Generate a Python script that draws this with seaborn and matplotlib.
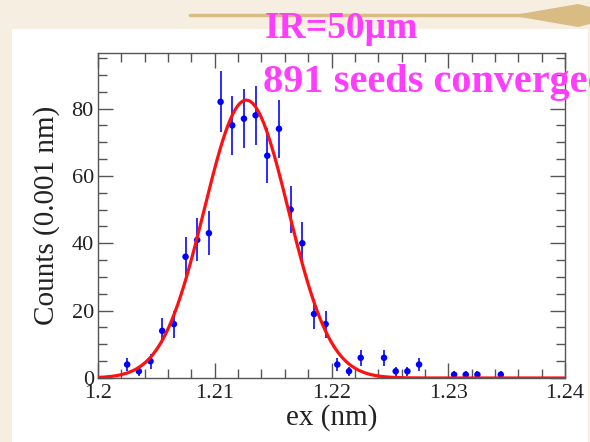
import numpy as np
import pandas as pd
import matplotlib
matplotlib.use("Agg")
import matplotlib.pyplot as plt
from matplotlib.patches import Rectangle, Polygon
from matplotlib.lines import Line2D
from matplotlib.ticker import MultipleLocator
import seaborn as sns

# ---- data ----
bin_centers = [1.2025, 1.2035, 1.2045, 1.2055, 1.2065, 1.2075, 1.2085, 1.2095,
               1.2105, 1.2115, 1.2125, 1.2135, 1.2145, 1.2155, 1.2165, 1.2175,
               1.2185, 1.2195, 1.2205, 1.2215, 1.2225, 1.2245, 1.2255, 1.2265,
               1.2275, 1.2305, 1.2315, 1.2325, 1.2345]
counts = [4, 2, 5, 14, 16, 36, 41, 43,
          82, 75, 77, 78, 66, 74, 50, 40,
          19, 16, 4, 2, 6, 6, 2, 2,
          4, 1, 1, 1, 1]
fit_amplitude = 82.5
fit_mean = 1.2127
fit_sigma = 0.0036
x_ticks = [1.20, 1.21, 1.22, 1.23, 1.24]
x_tick_labels = ["1.2", "1.21", "1.22", "1.23", "1.24"]
y_ticks = [0, 20, 40, 60, 80]
y_tick_labels = ["0", "20", "40", "60", "80"]
title_text = "IR=50µm"
note_text = "891 seeds converged"
x_label = "ex (nm)"
y_label = "Counts (0.001 nm)"

df = pd.DataFrame({"x": bin_centers, "y": counts})
df["err"] = np.sqrt(df["y"])

fit_x = np.linspace(1.20, 1.24, 800)
fit_df = pd.DataFrame({"x": fit_x,
                       "y": fit_amplitude * np.exp(-0.5 * ((fit_x - fit_mean) / fit_sigma) ** 2)})

sns.set_style("ticks")
plt.rcParams["font.family"] = ["Liberation Serif", "DejaVu Serif"]

W, H = 590, 442
fig = plt.figure(figsize=(W / 100, H / 100), dpi=100)
fig.patch.set_facecolor("#F5EEE1")

# white panel
fig.patches.append(Rectangle((12 / W, 0), 576 / W, (H - 29) / H, transform=fig.transFigure,
                             facecolor="white", edgecolor="none", zorder=-2))
# decorative tan rule with arrow end
tan = "#D9BC84"
fig.lines.append(Line2D([190 / W, 530 / W], [1 - 15 / H, 1 - 15 / H], transform=fig.transFigure,
                        color=tan, lw=2.5, zorder=-1))
arrow_pts = [(520, 14), (578, 4), (590, 7), (590, 24), (578, 27), (520, 17)]
fig.patches.append(Polygon([(px / W, 1 - py / H) for px, py in arrow_pts], closed=True,
                           transform=fig.transFigure, facecolor=tan, edgecolor="none", zorder=-1))

ax = fig.add_axes([98 / W, (H - 378) / H, (565 - 98) / W, (378 - 53) / H])
ax.set_facecolor("white")

frame_col = "#555555"
ax.errorbar(df["x"], df["y"], yerr=df["err"], fmt="none", ecolor="#1a1aff",
            elinewidth=1.3, capsize=0, zorder=2)
sns.scatterplot(data=df, x="x", y="y", ax=ax, color="#0000ff", s=22,
                edgecolor="none", zorder=3, legend=False)
sns.lineplot(data=fit_df, x="x", y="y", ax=ax, color="#ff1010", lw=2.3, zorder=4)

ax.set_xlim(1.20, 1.24)
ax.set_ylim(0, 96.5)
ax.set_xticks(x_ticks)
ax.set_xticklabels(x_tick_labels)
ax.set_yticks(y_ticks)
ax.set_yticklabels(y_tick_labels)
ax.xaxis.set_minor_locator(MultipleLocator(0.002))
ax.yaxis.set_minor_locator(MultipleLocator(5))
ax.tick_params(which="both", direction="in", top=True, right=True, color=frame_col,
               width=1.0, labelsize=16, labelcolor="#222222")
ax.tick_params(which="major", length=11)
ax.tick_params(which="minor", length=6.5)
ax.tick_params(axis="x", which="both", pad=4)
ax.tick_params(axis="y", which="both", pad=3)
for sp in ax.spines.values():
    sp.set_color(frame_col)
    sp.set_linewidth(1.0)

ax.set_xlabel(x_label, fontsize=21, color="#222222", labelpad=1)
ax.set_ylabel(y_label, fontsize=21, color="#222222", labelpad=8)

magenta = "#FF3CFF"
fig.text(341 / W, 1 - 38 / H, title_text, ha="center", va="baseline",
         fontsize=27, fontweight="bold", color=magenta, zorder=5)
fig.text(263 / W, 1 - 92 / H, note_text, ha="left", va="baseline",
         fontsize=29, fontweight="bold", color=magenta, zorder=5)

fig.savefig("out.png", dpi=100, facecolor=fig.get_facecolor())
